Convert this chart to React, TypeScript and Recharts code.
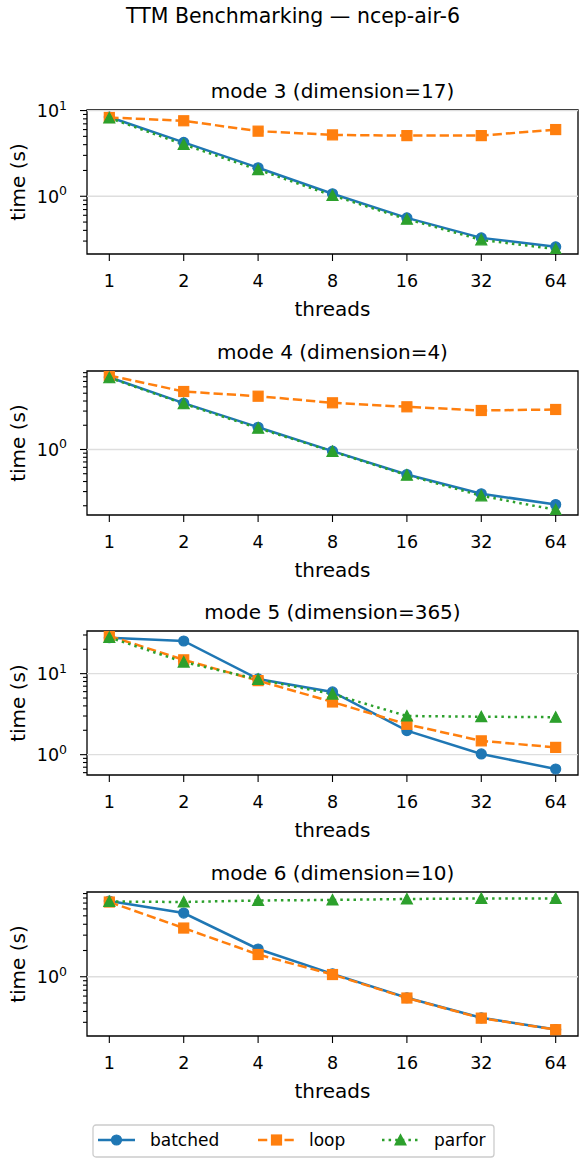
import React from "react";
import { LineChart, Line, XAxis, YAxis, ReferenceLine, ReferenceArea, Label } from "recharts";

const THREADS = [1, 2, 4, 8, 16, 32, 64];
const SERIES = ["batched", "loop", "parfor"];

const MODE3_BATCHED = [8.4, 4.25, 2.15, 1.07, 0.56, 0.327, 0.257];
const MODE3_LOOP = [8.3, 7.6, 5.75, 5.2, 5.1, 5.1, 6.0];
const MODE3_PARFOR = [8.2, 4.02, 2.04, 1.02, 0.54, 0.31, 0.242];

const MODE4_BATCHED = [7.9, 3.76, 1.89, 0.953, 0.489, 0.282, 0.207];
const MODE4_LOOP = [8.3, 5.25, 4.59, 3.8, 3.39, 3.05, 3.14];
const MODE4_PARFOR = [7.78, 3.7, 1.84, 0.944, 0.48, 0.266, 0.178];

const MODE5_BATCHED = [27.8, 25.3, 8.6, 5.94, 1.98, 1.02, 0.665];
const MODE5_LOOP = [29.2, 14.8, 8.2, 4.47, 2.37, 1.48, 1.23];
const MODE5_PARFOR = [28.0, 13.9, 8.5, 5.6, 3.0, 2.94, 2.9];

const MODE6_BATCHED = [7.4, 5.38, 2.08, 1.08, 0.574, 0.338, 0.248];
const MODE6_LOOP = [7.2, 3.62, 1.8, 1.06, 0.57, 0.335, 0.247];
const MODE6_PARFOR = [7.3, 7.2, 7.5, 7.6, 7.8, 7.9, 7.9];

const PANELS = [
  { title: "mode 3 (dimension=17)", values: [MODE3_BATCHED, MODE3_LOOP, MODE3_PARFOR], domain: [0.212, 10.15], majors: [1, 10] },
  { title: "mode 4 (dimension=4)", values: [MODE4_BATCHED, MODE4_LOOP, MODE4_PARFOR], domain: [0.1535, 9.44], majors: [1] },
  { title: "mode 5 (dimension=365)", values: [MODE5_BATCHED, MODE5_LOOP, MODE5_PARFOR], domain: [0.561, 33.6], majors: [1, 10] },
  { title: "mode 6 (dimension=10)", values: [MODE6_BATCHED, MODE6_LOOP, MODE6_PARFOR], domain: [0.209, 9.38], majors: [1] },
];

const COLORS = ["#1f77b4", "#ff7f0e", "#2ca02c"];
const DASHES = [undefined, "9.25 4", "2.5 4.1"];
const FONT = "'DejaVu Sans', sans-serif";

const BOX_TOPS = [110, 370.5, 631, 891.5];
const W = 586;
const H = 276;
const TOP = 60;
const PLOT_H = 144;
const LEFT = 87;
const RIGHT = 8;
const CX = LEFT + (W - LEFT - RIGHT) / 2;

function logTicks(lo: number, hi: number) {
  const out: number[] = [];
  for (let e = Math.floor(Math.log10(lo)); e <= Math.ceil(Math.log10(hi)); e++) {
    for (let k = 1; k <= 9; k++) {
      const v = k * Math.pow(10, e);
      if (v >= lo && v <= hi) out.push(v);
    }
  }
  return out;
}

const isMajor = (v: number) => Math.abs(Math.log10(v) - Math.round(Math.log10(v))) < 1e-9;

const YTick = ({ x, y, payload }: any) => {
  const v = payload.value;
  const major = isMajor(v);
  return (
    <g>
      <line x1={x} x2={x - (major ? 7 : 4)} y1={y} y2={y} stroke="#000" strokeWidth={1.1} />
      {major && (
        <text x={x - 20} y={y + 6.5} textAnchor="end" fontSize={17.5} fontFamily={FONT} fill="#000">
          10<tspan dy={-7.5} fontSize={12.5}>{Math.round(Math.log10(v))}</tspan>
        </text>
      )}
    </g>
  );
};

const XTick = ({ x, y, payload }: any) => (
  <g>
    <line x1={x} x2={x} y1={y} y2={y + 7} stroke="#000" strokeWidth={1.1} />
    <text x={x} y={y + 32.7} textAnchor="middle" fontSize={17.5} fontFamily={FONT} fill="#000">
      {THREADS[payload.value]}
    </text>
  </g>
);

const makeDot = (idx: number) => (p: any) => {
  const { cx, cy, index } = p;
  const c = COLORS[idx];
  if (cx == null || cy == null) return <g key={index} />;
  if (idx === 0) return <circle key={index} cx={cx} cy={cy} r={5} fill={c} stroke={c} strokeWidth={1.2} />;
  if (idx === 1) return <rect key={index} x={cx - 5} y={cy - 5} width={10} height={10} fill={c} stroke={c} strokeWidth={1.2} />;
  return <polygon key={index} points={`${cx},${cy - 5.5} ${cx - 5.5},${cy + 5} ${cx + 5.5},${cy + 5}`} fill={c} stroke={c} strokeWidth={1.2} />;
};

function Panel({ panel }: { panel: typeof PANELS[number] }) {
  const data = THREADS.map((t, i) => ({
    x: i,
    batched: panel.values[0][i],
    loop: panel.values[1][i],
    parfor: panel.values[2][i],
  }));
  const [lo, hi] = panel.domain;
  return (
    <LineChart width={W} height={H} data={data} margin={{ top: TOP, right: RIGHT, bottom: 0, left: 0 }}>
      <XAxis
        dataKey="x"
        type="number"
        domain={[-0.3, 6.3]}
        ticks={THREADS.map((_, i) => i)}
        allowDataOverflow
        interval={0}
        height={H - TOP - PLOT_H}
        axisLine={false}
        tickLine={false}
        tickSize={0}
        tickMargin={0}
        tick={<XTick />}
      >
        <Label
          content={() => (
            <text x={CX} y={TOP + PLOT_H + 62} textAnchor="middle" fontSize={20} fontFamily={FONT} fill="#000">
              threads
            </text>
          )}
        />
        <Label
          content={() => (
            <text x={CX} y={TOP - 12.5} textAnchor="middle" fontSize={20} fontFamily={FONT} fill="#000">
              {panel.title}
            </text>
          )}
        />
      </XAxis>
      <YAxis
        type="number"
        scale="log"
        domain={[lo, hi]}
        allowDataOverflow
        ticks={logTicks(lo, hi)}
        interval={0}
        width={LEFT}
        axisLine={false}
        tickLine={false}
        tickSize={0}
        tickMargin={0}
        tick={<YTick />}
        label={
          <Label
            content={() => (
              <text
                transform={`translate(25, ${TOP + PLOT_H / 2}) rotate(-90)`}
                textAnchor="middle"
                fontSize={20}
                fontFamily={FONT}
                fill="#000"
              >
                time (s)
              </text>
            )}
          />
        }
      />
      {panel.majors.map((m) => (
        <ReferenceLine key={m} y={m} stroke="#dedede" strokeWidth={1.3} />
      ))}
      {SERIES.map((s, i) => (
        <Line
          key={s}
          dataKey={s}
          type="linear"
          stroke={COLORS[i]}
          strokeWidth={2.5}
          strokeDasharray={DASHES[i]}
          dot={makeDot(i)}
          activeDot={false}
          isAnimationActive={false}
        />
      ))}
      <ReferenceArea x1={-0.3} x2={6.3} y1={lo} y2={hi} fill="none" stroke="#000" strokeWidth={1.3} fillOpacity={0} />
    </LineChart>
  );
}

const LEGEND_ITEMS = [
  { x: 98, tx: 150 },
  { x: 258, tx: 309 },
  { x: 382, tx: 434 },
];

function Legend() {
  const L = 37;
  const cy = 16;
  return (
    <svg width={403} height={34} style={{ position: "absolute", left: 92, top: 1124 }}>
      <rect x={1} y={1} width={401} height={32} rx={3} fill="#fff" fillOpacity={0.8} stroke="#cccccc" strokeWidth={1.3} />
      {SERIES.map((s, i) => {
        const x0 = LEGEND_ITEMS[i].x - 92;
        const mx = x0 + L / 2;
        const dot = makeDot(i)({ cx: mx, cy, index: 0 });
        return (
          <g key={s}>
            <line x1={x0} x2={x0 + L} y1={cy} y2={cy} stroke={COLORS[i]} strokeWidth={2.5} strokeDasharray={DASHES[i]} />
            {dot}
            <text x={LEGEND_ITEMS[i].tx - 92} y={cy + 6} fontSize={17} fontFamily={FONT} fill="#000">
              {s}
            </text>
          </g>
        );
      })}
    </svg>
  );
}

export default function App() {
  return (
    <div style={{ position: "absolute", left: 0, top: 0, width: W, height: 1165, background: "#fff", fontFamily: FONT }}>
      <svg width={W} height={40} style={{ position: "absolute", left: 0, top: 0 }}>
        <text x={W / 2} y={22.7} textAnchor="middle" fontSize={20.5} fontFamily={FONT} fill="#000">
          TTM Benchmarking — ncep-air-6
        </text>
      </svg>
      {PANELS.map((p, i) => (
        <div key={p.title} style={{ position: "absolute", left: 0, top: BOX_TOPS[i] - TOP, width: W, height: H }}>
          <Panel panel={p} />
        </div>
      ))}
      <Legend />
    </div>
  );
}
